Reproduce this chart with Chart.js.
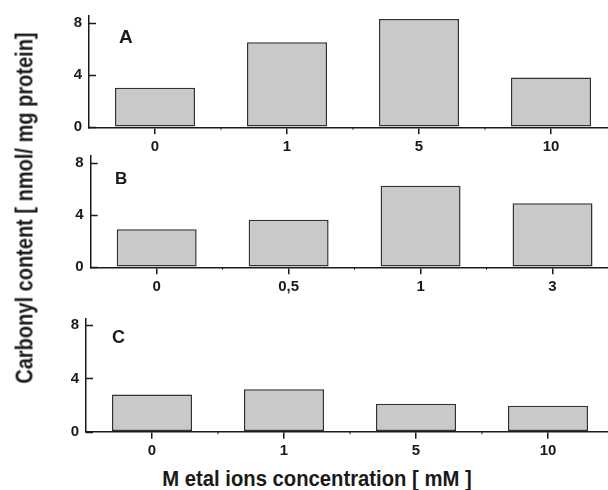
<!DOCTYPE html>
<html>
<head>
<meta charset="utf-8">
<script src="https://cdn.jsdelivr.net/npm/chart.js@4.4.1/dist/chart.umd.min.js"></script>
<style>
  html, body { margin:0; padding:0; background:#fff; }
  body { width:608px; height:490px; overflow:hidden; position:relative; font-family:"Liberation Sans", Arial, sans-serif; }
  canvas { position:absolute; left:0; }
  .anchor { position:absolute; width:0; height:0; }
  .title { position:absolute; left:0; top:0; white-space:nowrap; font-weight:bold; color:#1a1a1a; line-height:1; }
</style>
</head>
<body>
<canvas id="cA" width="640" height="160" style="top:0px"></canvas>
<canvas id="cB" width="640" height="160" style="top:140px"></canvas>
<canvas id="cC" width="640" height="160" style="top:300px"></canvas>

<div class="anchor" style="left:24.5px; top:208px;">
  <div class="title" id="ytitle" style="font-size:23px; transform:translate(-50%,-50%) rotate(-90deg) scaleX(0.87);">Carbonyl content [ nmol/ mg protein]</div>
</div>
<div class="anchor" style="left:316.5px; top:478.7px;">
  <div class="title" id="xtitle" style="font-size:22.5px; transform:translate(-50%,-50%) scaleX(0.9);">M etal ions concentration [ mM ]</div>
</div>

<script>
// ---- data ----
const categoriesA = ['0', '1', '5', '10'];
const valuesA     = [3.02, 6.5, 8.28, 3.81];
const categoriesB = ['0', '0,5', '1', '3'];
const valuesB     = [2.91, 3.64, 6.23, 4.9];
const categoriesC = ['0', '1', '5', '10'];
const valuesC     = [2.8, 3.18, 2.1, 1.95];
const yTickValues = [0, 4, 8];
const yMax = 8.5;
const panelLetters = ['A', 'B', 'C'];

const FONT = '"Liberation Sans", Arial, sans-serif';
const INK = '#1a1a1a';

const decoPlugin = {
  id: 'deco',
  afterDraw(chart, args, opts) {
    const {ctx, scales: {x, y}} = chart;
    ctx.save();
    ctx.strokeStyle = INK;
    ctx.lineWidth = 1.5;
    // inward y ticks
    y.ticks.forEach((t, i) => {
      const py = Math.round(y.getPixelForTick(i)) + 0.5;
      ctx.beginPath();
      ctx.moveTo(x.left, py);
      ctx.lineTo(x.left + 7, py);
      ctx.stroke();
    });
    // tiny minor x ticks at category boundaries
    ctx.lineWidth = 1;
    for (let i = 0; i < x.ticks.length; i++) {
      const p1 = x.getPixelForTick(i);
      const p2 = i + 1 < x.ticks.length ? x.getPixelForTick(i + 1) : p1 + (p1 - x.getPixelForTick(i - 1));
      const px = (p1 + p2) / 2;
      ctx.beginPath();
      ctx.moveTo(px, y.bottom);
      ctx.lineTo(px, y.bottom + 2.5);
      ctx.stroke();
    }
    // panel letter
    ctx.fillStyle = INK;
    ctx.font = 'bold ' + opts.size + 'px ' + FONT;
    ctx.textBaseline = 'alphabetic';
    ctx.textAlign = 'left';
    ctx.fillText(opts.text, opts.x, opts.y);
    ctx.restore();
  }
};

function makePanel(id, labels, values, letter, geo) {
  return new Chart(document.getElementById(id), {
    type: 'bar',
    data: {
      labels: labels,
      datasets: [{
        data: values,
        backgroundColor: '#c8c9cb',
        borderColor: '#333',
        borderWidth: 1.5,
        borderSkipped: false,
        barPercentage: 0.606,
        categoryPercentage: 1
      }]
    },
    options: {
      responsive: false,
      animation: false,
      events: [],
      layout: { padding: { top: geo.top, right: geo.right, left: 0, bottom: 0 } },
      plugins: {
        legend: { display: false },
        tooltip: { enabled: false },
        deco: { text: letter, x: geo.lx, y: geo.ly, size: geo.ls }
      },
      scales: {
        x: {
          grid: { display: true, drawOnChartArea: false, drawTicks: true, tickLength: 7, offset: false, color: INK, lineWidth: 1.5 },
          border: { display: true, color: INK, width: 1.5 },
          ticks: { font: { family: FONT, size: 15, weight: 'bold' }, color: INK, padding: 3.5, maxRotation: 0, autoSkip: false },
          afterFit(s) { s.height = geo.xh; }
        },
        y: {
          min: 0,
          max: yMax,
          afterBuildTicks(s) { s.ticks = yTickValues.map(v => ({ value: v })); },
          grid: { display: true, drawOnChartArea: false, drawTicks: false, color: INK, lineWidth: 1.5 },
          border: { display: true, color: INK, width: 1.5 },
          ticks: { font: { family: FONT, size: 15, weight: 'bold' }, color: INK, padding: 7 },
          afterFit(s) { s.width = geo.axisX; }
        }
      }
    },
    plugins: [decoPlugin]
  });
}

makePanel('cA', categoriesA, valuesA, panelLetters[0], { top: 14.4, right: 23,   xh: 32.7, axisX: 89,   lx: 119, ly: 42.5, ls: 19 });
makePanel('cB', categoriesB, valuesB, panelLetters[1], { top: 14.7, right: 21.5, xh: 32.7, axisX: 90.7, lx: 115, ly: 43.5, ls: 17 });
makePanel('cC', categoriesC, valuesC, panelLetters[2], { top: 18.4, right: 26,   xh: 28.3, axisX: 86,   lx: 112, ly: 42.7, ls: 18 });
</script>
</body>
</html>
